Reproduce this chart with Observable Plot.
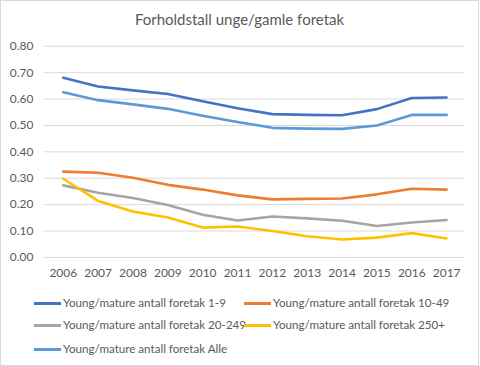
<!DOCTYPE html>
<html><head><meta charset="utf-8">
<script src="https://cdn.jsdelivr.net/npm/d3@7"></script>
<script src="https://cdn.jsdelivr.net/npm/@observablehq/plot@0.6"></script>
<style>
body{margin:0;background:#fff;font-family:Lato,"Liberation Sans",sans-serif;}
#wrap{position:relative;width:477px;height:364px;border:1px solid #d9d9d9;background:#fff;overflow:hidden;}
#title{position:absolute;top:9px;left:0;width:100%;text-align:center;font-size:15px;color:#595959;}
#chart{position:absolute;left:-1px;top:-1px;}
.li{position:absolute;font-size:11.6px;color:#595959;white-space:nowrap;line-height:14px;}
.sw{display:inline-block;width:27px;height:3px;vertical-align:middle;margin-right:2px;position:relative;top:-1px;}
</style></head><body>
<div id="wrap"><div id="title">Forholdstall unge/gamle foretak</div><div id="chart"></div><div id="legend"></div></div>
<script>
const years = ["2006","2007","2008","2009","2010","2011","2012","2013","2014","2015","2016","2017"];
const seriesNames = ["Young/mature antall foretak 1-9","Young/mature antall foretak 10-49","Young/mature antall foretak 20-249","Young/mature antall foretak 250+","Young/mature antall foretak Alle"];
const s1_9    = [0.681,0.648,0.633,0.619,0.592,0.565,0.543,0.540,0.539,0.562,0.604,0.606];
const s10_49  = [0.325,0.321,0.302,0.275,0.257,0.235,0.220,0.222,0.223,0.239,0.260,0.257];
const s20_249 = [0.273,0.245,0.225,0.199,0.162,0.140,0.155,0.148,0.139,0.119,0.132,0.142];
const s250    = [0.298,0.214,0.174,0.151,0.113,0.117,0.100,0.080,0.068,0.075,0.092,0.072];
const sAlle   = [0.626,0.596,0.580,0.563,0.537,0.513,0.491,0.488,0.487,0.500,0.540,0.540];
const yTicks  = [0,0.1,0.2,0.3,0.4,0.5,0.6,0.7,0.8];
const colors  = ["#4472C4","#ED7D31","#A5A5A5","#FFC000","#5B9BD5"];

const allSeries = [s1_9,s10_49,s20_249,s250,sAlle];
const data = [];
allSeries.forEach((arr,i)=>arr.forEach((v,j)=>data.push({year:years[j],value:v,series:seriesNames[i]})));

const chart = Plot.plot({
  width:480, height:290,
  marginTop:46, marginBottom:32, marginLeft:44, marginRight:14,
  style:{fontFamily:"Lato, 'Liberation Sans', sans-serif", fontSize:"12px", color:"#595959", background:"transparent"},
  x:{type:"point", domain:years, padding:0.5, label:null},
  y:{domain:[0,0.8], label:null},
  color:{domain:seriesNames, range:colors},
  marks:[
    Plot.ruleY(yTicks,{stroke:"#d9d9d9", strokeWidth:1}),
    Plot.axisY(yTicks,{tickSize:0, tickPadding:11, tickFormat:d=>d.toFixed(2), label:null, fill:"#595959"}),
    Plot.axisX({tickSize:0, tickPadding:11, label:null, fill:"#595959"}),
    Plot.line(data,{x:"year", y:"value", z:"series", stroke:"series", strokeWidth:2.6, curve:"linear"})
  ]
});
document.getElementById("chart").appendChild(chart);

const pos = [[33,295],[243,295],[33,317],[243,317],[33,341]];
const lg = document.getElementById("legend");
seriesNames.forEach((n,i)=>{
  const d=document.createElement("div");d.className="li";
  d.style.left=pos[i][0]+"px";d.style.top=pos[i][1]+"px";
  d.innerHTML=`<span class="sw" style="background:${colors[i]}"></span>${n}`;
  lg.appendChild(d);
});
</script></body></html>
